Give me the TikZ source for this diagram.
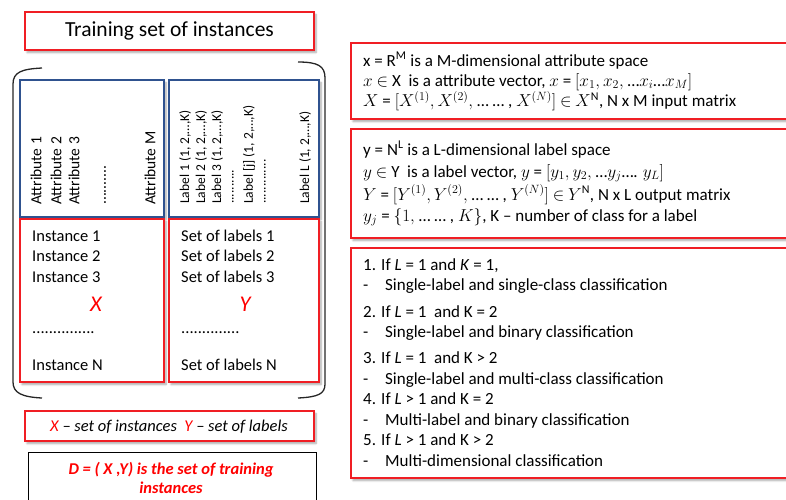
\documentclass[tikz,border=0pt]{standalone}
\usepackage{fontspec}
\setmainfont{Carlito}
\usetikzlibrary{shadows.blur}
\definecolor{boxred}{RGB}{240,30,36}
\definecolor{boxblue}{RGB}{47,82,143}

\begin{document}
\begin{tikzpicture}[x=1pt,y=-1pt,
  box/.style={draw,line width=1.2pt,fill=white,inner sep=0pt,
    blur shadow={shadow xshift=2pt,shadow yshift=-2.5pt,shadow blur steps=6,shadow opacity=35}},
  redbox/.style={box,draw=boxred},
  bluebox/.style={box,draw=boxblue},
  atxt/.style={font=\fontsize{15.5}{18}\selectfont,rotate=90,anchor=west,inner sep=0pt},
  ltxt/.style={font=\fontsize{13.5}{15}\selectfont,rotate=90,anchor=west,inner sep=0pt},
  itxt/.style={font=\fontsize{16.5}{20}\selectfont,anchor=base west,inner sep=0pt},
  rtxt/.style={font=\fontsize{17}{21}\selectfont,anchor=base west,inner sep=0pt},
  dtxt/.style={font=\fontsize{16.5}{19}\selectfont\bfseries\itshape,text=red,anchor=base,inner sep=0pt}]
  \clip (0,0) rectangle (786,499);
  % Title
  \node[redbox,minimum width=289pt,minimum height=38pt,font=\fontsize{21.5}{24}\selectfont] (title) at (169.5,31) {Training set of instances};
  % Bracket round the data set
  \draw[line width=1.3pt,black!85] (42,68) .. controls (22,69) and (13,72) .. (13,84) -- (13,382) .. controls (13,393) and (22,397) .. (42,398);
  \draw[line width=1.3pt,black!85] (298,62) .. controls (318,62) and (325,66) .. (325,78) -- (325,384) .. controls (325,394) and (318,397) .. (298,398);
  % Attribute and label headers
  \node[bluebox,minimum width=144pt,minimum height=137pt] (attrbox) at (92,148.5) {};
  \node[bluebox,minimum width=150pt,minimum height=137pt] (labbox) at (244,148.5) {};
  \foreach \i/\xx in {1/36,2/56,3/74}
    \node[atxt] (attr\i) at (\xx,205) {Attribute \i};
  \node[atxt] (attrdots) at (105,205) {..........};
  \node[atxt] (attrM) at (150,205) {Attribute M};
  \foreach \i/\xx in {1/185,2/201,3/217}
    \node[ltxt] (lab\i) at (\xx,204) {Label \i\ (1, 2,\ldots,K)};
  \node[ltxt] (labdotsa) at (233,204) {..........};
  \node[ltxt] (labj) at (249,204) {Label [j] (1, 2,\ldots,K)};
  \node[ltxt] (labdotsb) at (265,204) {.............};
  \node[ltxt] (labL) at (305,204) {Label L (1, 2,\ldots,K)};
  % Instances X and label sets Y
  \node[redbox,minimum width=144pt,minimum height=163pt] (instbox) at (92,300.5) {};
  \node[redbox,minimum width=150pt,minimum height=163pt] (setbox) at (244,300.5) {};
  \foreach \i/\yy in {1/241,2/261,3/282}{
    \node[itxt] (inst\i) at (32,\yy) {Instance \i};
    \node[itxt] (set\i) at (181,\yy) {Set of labels \i};
  }
  \node[font=\fontsize{22.5}{24}\selectfont\itshape,text=red,anchor=base,inner sep=0pt] (xset) at (96,311.5) {X};
  \node[font=\fontsize{22.5}{24}\selectfont\itshape,text=red,anchor=base,inner sep=0pt] (yset) at (245,311.5) {Y};
  \node[itxt] (instdots) at (32,333) {...............};
  \node[itxt] (setdots) at (181,333) {..............};
  \node[itxt] (instN) at (32,370.5) {Instance N};
  \node[itxt] (setN) at (181,370.5) {Set of labels N};
  % Legend and definition of D
  \node[redbox,minimum width=289pt,minimum height=30pt] (legend) at (169.5,426) {};
  \node[font=\fontsize{16.5}{20}\selectfont\itshape,anchor=base,inner sep=0pt] (legtxt) at (169,431.5)
    {\textcolor{red}{X} -- set of instances\ \ \textcolor{red}{Y} -- set of labels};
  \node[draw,line width=0.8pt,fill=white,minimum width=288pt,minimum height=68pt] (dbox) at (172,486) {};
  \node[dtxt] (dline1) at (171,474) {D = ( X ,Y) is the set of training};
  \node[dtxt] (dline2) at (171,493) {instances};
  % Attribute space
  \node[redbox,minimum width=449pt,minimum height=76pt] (xspace) at (575.5,81) {};
  \foreach \yy/\txt in {66/{x = $\mathrm{R}^{\mathrm{M}}$ is a M-dimensional attribute space},
      86/{$x$ $\in$ X\ \ is a attribute vector, $x$ = $[x_1, x_2,$ …$x_i$…$x_M]$},
      106.5/{$X$ = $[X^{(1)}, X^{(2)},$ … … , $X^{(N)}]$ $\in$ $X^{\mathrm{N}}$, N x M input matrix}}
    \node[rtxt] at (363,\yy) {\txt};
  % Label space
  \node[redbox,minimum width=449pt,minimum height=109pt] (yspace) at (575.5,183.5) {};
  \foreach \yy/\txt in {155/{y = $\mathrm{N}^{\mathrm{L}}$ is a L-dimensional label space},
      177/{$y$ $\in$ Y\ \ is a label vector, $y$ = $[y_1, y_2,$ …$y_j$…. $y_L]$},
      200/{$Y$ = $[Y^{(1)}, Y^{(2)},$ … … , $Y^{(N)}]$ $\in$ $Y^{\mathrm{N}}$, N x L output matrix},
      221/{$y_j$ = $\{1,$ … … , $K\}$, K -- number of class for a label}}
    \node[rtxt] at (363,\yy) {\txt};
  % Cases of classification
  \node[redbox,minimum width=449pt,minimum height=230pt] (cases) at (575.5,363) {};
  \foreach \yy/\txt in {270/{1. If \textit{L} = 1 and \textit{K} = 1,},
      290/{\makebox[22pt][l]{-}Single-label and single-class classification},
      317/{2. If \textit{L} = 1\ \ and K = 2},
      337/{\makebox[22pt][l]{-}Single-label and binary classification},
      363/{3. If \textit{L} = 1\ \ and K {>} 2},
      384/{\makebox[22pt][l]{-}Single-label and multi-class classification},
      404/{4. If \textit{L} {>} 1 and K = 2},
      425/{\makebox[22pt][l]{-}Multi-label and binary classification},
      445/{5. If \textit{L} {>} 1 and K {>} 2},
      466/{\makebox[22pt][l]{-}Multi-dimensional classification}}
    \node[rtxt] at (363,\yy) {\txt};
\end{tikzpicture}
\end{document}
